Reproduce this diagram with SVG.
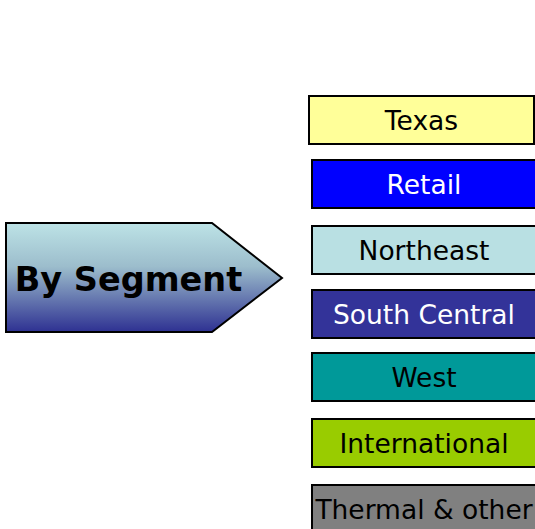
<svg xmlns="http://www.w3.org/2000/svg" width="535" height="529" viewBox="0 0 535 529">
<style>
.box{stroke:#000;stroke-width:2}
.t{font-family:"DejaVu Sans",Verdana,sans-serif;font-size:26.5px;text-anchor:middle}
</style>
<defs>
<linearGradient id="g" x1="0" y1="0" x2="0" y2="1">
<stop offset="0" stop-color="#bde3e6"/>
<stop offset="0.4" stop-color="#9cbdcc"/>
<stop offset="1" stop-color="#2e3192"/>
</linearGradient>
</defs>
<rect width="535" height="529" fill="#fff"/>
<g id="by-segment">
<path d="M6,223 L212,223 L282,278 L212,332 L6,332 Z" fill="url(#g)" stroke="#000" stroke-width="2"/>
<text x="128.5" y="291" style="font-family:'DejaVu Sans',Verdana,sans-serif;font-size:33.5px;font-weight:bold;text-anchor:middle">By Segment</text>
</g>
<g id="texas"><rect class="box" x="309" y="96" width="225" height="48" fill="#ffff99"/><text class="t" x="421.5" y="130">Texas</text></g>
<g id="retail"><rect class="box" x="312" y="160" width="224" height="48" fill="#0000ff"/><text class="t" x="424" y="194" fill="#fff">Retail</text></g>
<g id="northeast"><rect class="box" x="312" y="226" width="224" height="48" fill="#b9e0e3"/><text class="t" x="424" y="260">Northeast</text></g>
<g id="south-central"><rect class="box" x="312" y="290" width="224" height="48" fill="#333399"/><text class="t" x="424" y="324" fill="#fff">South Central</text></g>
<g id="west"><rect class="box" x="312" y="353" width="224" height="48" fill="#009999"/><text class="t" x="424" y="387">West</text></g>
<g id="international"><rect class="box" x="312" y="419" width="224" height="48" fill="#99cc00"/><text class="t" x="424" y="453">International</text></g>
<g id="thermal"><rect class="box" x="312" y="485" width="224" height="48" fill="#808080"/><text class="t" x="424" y="519">Thermal &amp; other</text></g>
<g id="connectors"></g>
</svg>
